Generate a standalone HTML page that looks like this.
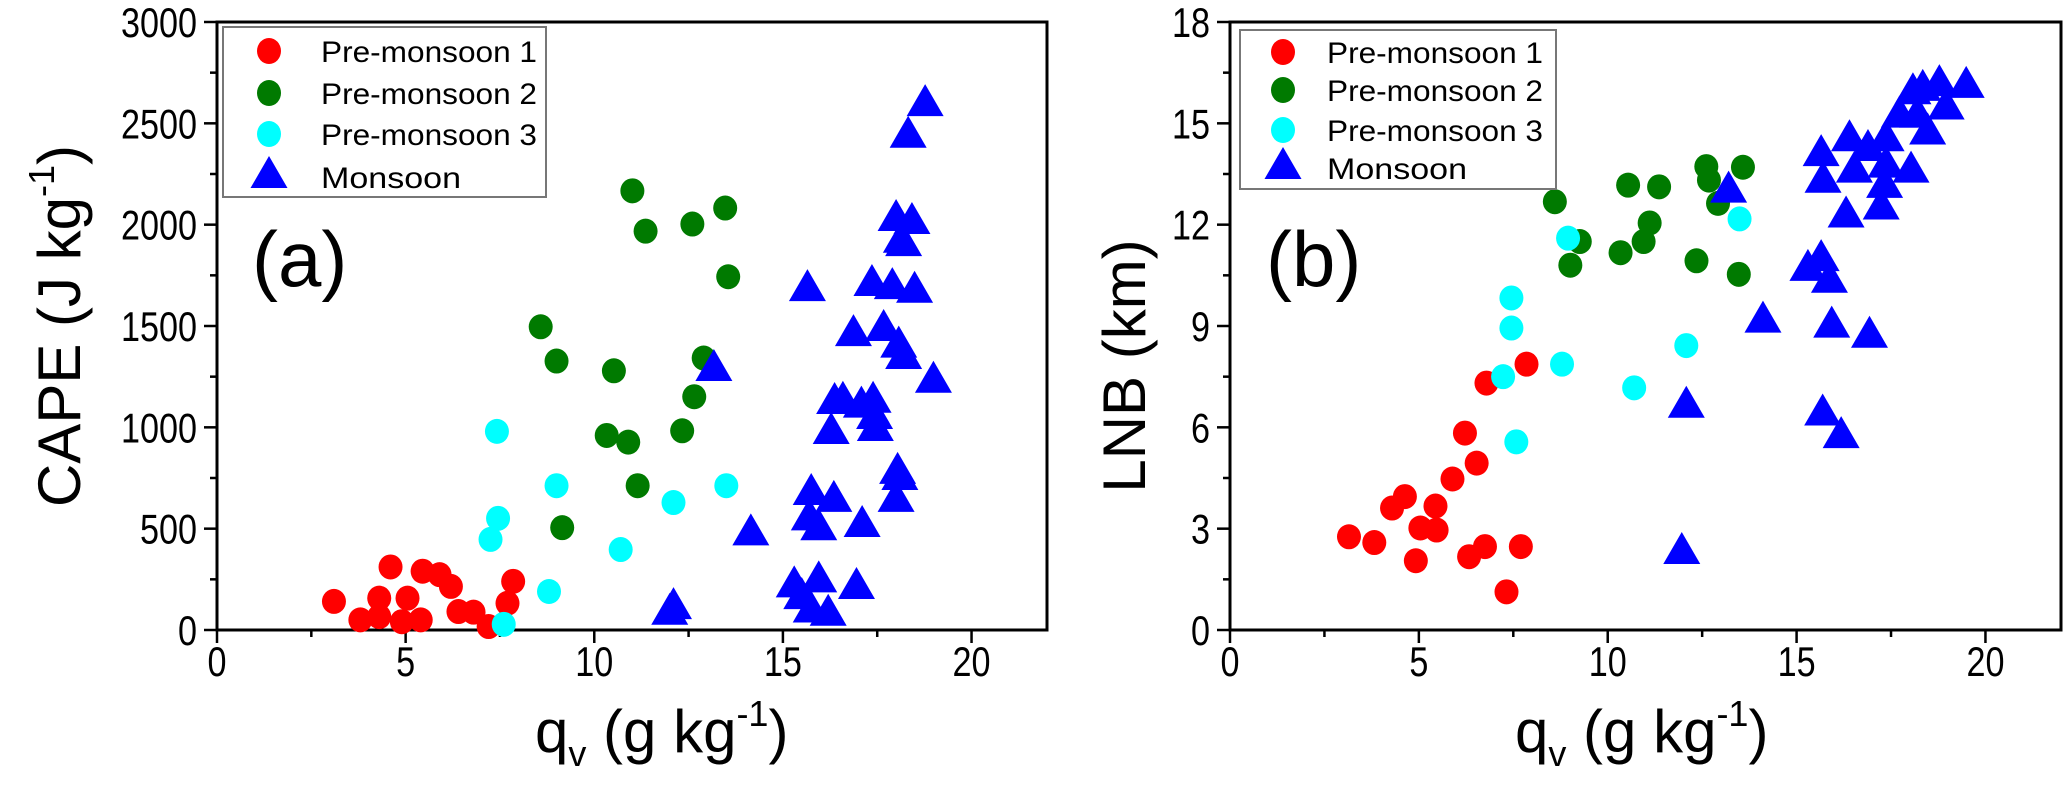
<!DOCTYPE html>
<html><head><meta charset="utf-8"><style>
html,body{margin:0;padding:0;background:#fff;}
svg{display:block;font-family:"Liberation Sans",Arial,sans-serif;}
</style></head><body>
<svg id="fig" width="2067" height="789" viewBox="0 0 2067 789" xmlns="http://www.w3.org/2000/svg">
<g id="pa"></g>
<g id="pb"></g>
</svg>
<script>
// ---- Panel (a) data: qv (g/kg) vs CAPE (J/kg)
const aPre1X = [3.1,3.8,4.3,4.3,4.6,4.9,5.05,5.4,5.45,5.9,6.2,6.4,6.8,7.2,7.7,7.85];
const aPre1Y = [141,50,157,66,311,41,157,50,290,273,215,91,88,17,132,240];
const aPre2X = [11.01,11.36,12.6,13.47,13.55,8.58,9.0,10.52,12.9,12.65,12.33,10.33,10.9,11.15,9.15];
const aPre2Y = [2167,1968,2003,2082,1743,1496,1327,1279,1342,1151,983,960,927,712,505];
const aPre3X = [7.42,7.45,7.25,9.0,8.8,7.6,10.7,12.1,13.5];
const aPre3Y = [980,551,447,712,190,28,397,629,712];
const aMonX = [18.77,18.32,18.0,18.42,18.14,18.2,15.65,17.36,17.9,18.49,16.87,17.67,18.07,18.2,18.99,13.17,16.37,16.59,17.08,17.39,17.43,17.45,16.28,18.04,12.1,12.0,14.15,15.75,16.35,15.7,15.95,17.1,18.1,18.0,15.3,15.95,16.95,15.75,16.2,15.5];
const aMonY = [2590,2434,2023,2008,1916,1899,1677,1702,1687,1669,1455,1480,1398,1342,1225,1283,1120,1126,1102,1126,1046,987,972,775,108,80,472,671,637,546,497,513,745,637,215,240,207,91,75,157];
// ---- Panel (b) data: qv (g/kg) vs LNB (km)
const bPre1X = [3.15,3.82,4.29,4.63,4.92,5.04,5.47,5.44,5.89,6.53,6.22,6.33,6.75,7.7,7.32,6.79,7.85];
const bPre1Y = [2.76,2.59,3.61,3.95,2.05,3.02,2.96,3.67,4.47,4.94,5.83,2.17,2.47,2.47,1.13,7.31,7.87];
const bPre2X = [8.6,10.54,11.36,12.61,12.68,13.58,12.92,11.11,10.95,10.34,12.35,13.47,9.01,9.26];
const bPre2Y = [12.68,13.17,13.12,13.72,13.32,13.7,12.63,12.05,11.5,11.17,10.93,10.53,10.8,11.5];
const bPre3X = [7.45,7.45,7.23,8.79,7.58,8.95,13.49,12.08,10.7];
const bPre3Y = [9.83,8.94,7.5,7.87,5.57,11.6,12.17,8.42,7.17];
const bMonX = [13.2,15.65,15.7,16.4,16.53,16.89,17.37,17.37,17.33,17.24,18.03,17.72,18.08,18.34,18.78,19.49,18.96,18.47,18.2,16.31,15.3,15.65,15.87,14.11,15.93,16.93,12.08,15.69,16.18,11.96];
const bMonY = [12.98,14.06,13.27,14.5,13.57,14.21,14.5,13.72,13.12,12.48,13.57,15.2,15.89,15.99,16.13,16.08,15.44,14.7,15.2,12.24,10.66,10.95,10.31,9.13,8.98,8.68,6.61,6.38,5.71,2.28];
// ---- ticks
const xTicks = [0,5,10,15,20];
const aYTicks = [0,500,1000,1500,2000,2500,3000];
const bYTicks = [0,3,6,9,12,15,18];
const legendLabels = ["Pre-monsoon 1","Pre-monsoon 2","Pre-monsoon 3","Monsoon"];

const NS="http://www.w3.org/2000/svg";
function mk(parent,tag,attrs,text){const e=document.createElementNS(NS,tag);for(const k in attrs)e.setAttribute(k,attrs[k]);if(text!==undefined)e.textContent=text;parent.appendChild(e);return e;}

function panel(g, L, R, yMax, yTicks, yMinorStep, series, legend, lab, yTitle, yTitleX, xTitleX){
  const T=22,B=630,xMax=22;
  const sx=v=>L+(v/xMax)*(R-L);
  const sy=v=>B-(v/yMax)*(B-T);
  // frame
  const fr=mk(g,'rect',{x:L,y:T,width:R-L,height:B-T,fill:'none',stroke:'#000','stroke-width':3});
  
  
  // x ticks
  for(let v=0;v<=xMax+0.01;v+=2.5){
    const major=(v%5===0);
    const t=mk(g,'line',{x1:sx(v),x2:sx(v),y1:B,y2:B+(major?13:7),stroke:'#000','stroke-width':2.5});
    
    
  }
  xTicks.forEach(v=>{
    const t=mk(g,'text',{x:sx(v),y:676,'font-size':42,'text-anchor':'middle',textLength:String(v).length*19,lengthAdjust:'spacingAndGlyphs'},String(v));
    
    
  });
  for(let v=0;v<=yMax+1e-6;v+=yMinorStep){
    const major=yTicks.some(y=>Math.abs(y-v)<1e-6);
    const t=mk(g,'line',{x1:L,x2:L-(major?13:7),y1:sy(v),y2:sy(v),stroke:'#000','stroke-width':2.5});
    
    
  }
  yTicks.forEach(v=>{
    const s=String(v);
    const t=mk(g,'text',{x:L-20,y:sy(v)+15,'font-size':42,'text-anchor':'end',textLength:s.length*19,lengthAdjust:'spacingAndGlyphs'},s);
    
    
  });
  // points
  series.forEach(s=>{
    s.x.forEach((xv,i)=>{
      const cx=sx(xv),cy=sy(s.y[i]);
      let m;
      if(s.tri){m=mk(g,'polygon',{points:`${cx},${cy-21} ${cx-18.5},${cy+11} ${cx+18.5},${cy+11}`,fill:s.c});}
      else{m=mk(g,'ellipse',{cx:cx,cy:cy,rx:12,ry:12.5,fill:s.c});}
      
      
    });
  });
  // legend
  const lg=mk(g,'g',{});
  
  
  const lb=mk(lg,'rect',{x:legend.x,y:legend.y,width:legend.w,height:legend.h,fill:'#fff',stroke:'#777','stroke-width':2});
  
  
  legendLabels.forEach((lab2,i)=>{
    const ry=legend.rows[i];const mx=legend.mx;
    let m;
    if(i===3){m=mk(lg,'polygon',{points:`${mx},${ry-21} ${mx-18.5},${ry+11} ${mx+18.5},${ry+11}`,fill:series[3].c});}
    else{m=mk(lg,'ellipse',{cx:mx,cy:ry,rx:12,ry:13,fill:series[i].c});}
    
    
    const t=mk(lg,'text',{x:legend.tx,y:ry+11,'font-size':30,textLength:i===3?140:216,lengthAdjust:'spacingAndGlyphs'},lab2);
    
    
  });
  // panel label
  const pl=mk(g,'text',{x:lab.x,y:286,'font-size':78},lab.t);
  
  
  // x title
  const xt=mk(g,'text',{x:xTitleX,y:752,'font-size':60});
  
  
  mk(xt,'tspan',{},'q');
  mk(xt,'tspan',{'font-size':36,dy:14},'v');
  mk(xt,'tspan',{dy:-14},' (g kg');
  mk(xt,'tspan',{'font-size':36,dy:-26},'-1');
  mk(xt,'tspan',{dy:26},')');
  // y title
  const yt=mk(g,'text',{x:0,y:0,'font-size':60,'text-anchor':'middle',transform:`translate(${yTitleX},${326}) rotate(-90)`});
  
  
  if(yTitle==='CAPE'){
    mk(yt,'tspan',{},'CAPE (J kg');
    mk(yt,'tspan',{'font-size':36,dy:-26},'-1');
    mk(yt,'tspan',{dy:26},')');
  } else {
    yt.setAttribute('transform',`translate(${yTitleX},366) rotate(-90)`);
    yt.textContent='LNB (km)';
  }
}
const colors={p1:'#ff0000',p2:'#007a00',p3:'#00ffff',m:'#0000ff'};
panel(document.getElementById('pa'),217,1047,3000,aYTicks,250,
 [{x:aPre1X,y:aPre1Y,c:colors.p1,name:'pre-monsoon-1'},{x:aPre2X,y:aPre2Y,c:colors.p2,name:'pre-monsoon-2'},{x:aPre3X,y:aPre3Y,c:colors.p3,name:'pre-monsoon-3'},{x:aMonX,y:aMonY,c:colors.m,tri:true,name:'monsoon'}],
 {x:223,y:27,w:323,h:170,mx:269,tx:321,rows:[51,93,134,177]},{x:252,t:'(a)'},'CAPE',80,535);
panel(document.getElementById('pb'),1230,2061,18,bYTicks,1.5,
 [{x:bPre1X,y:bPre1Y,c:colors.p1,name:'pre-monsoon-1'},{x:bPre2X,y:bPre2Y,c:colors.p2,name:'pre-monsoon-2'},{x:bPre3X,y:bPre3Y,c:colors.p3,name:'pre-monsoon-3'},{x:bMonX,y:bMonY,c:colors.m,tri:true,name:'monsoon'}],
 {x:1240,y:30,w:316,h:159,mx:1283,tx:1327,rows:[52,90,130,168]},{x:1266,t:'(b)'},'LNB',1145,1515);
</script>
</body></html>
